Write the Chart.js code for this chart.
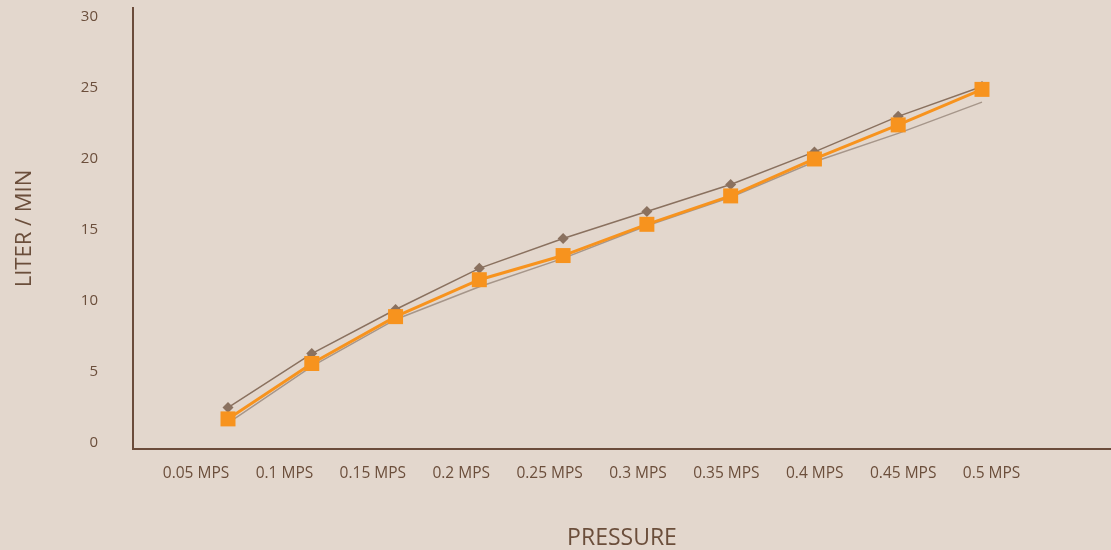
<!DOCTYPE html>
<html>
<head>
<meta charset="utf-8">
<script src="https://cdn.jsdelivr.net/npm/chart.js@4"></script>
<style>
  html, body { margin: 0; padding: 0; background: #e3d7cd; overflow: hidden; }
  #wrap { width: 1111px; height: 550px; position: relative; }
  canvas { display: block; }
</style>
</head>
<body>
<div id="wrap"><canvas id="c"></canvas></div>
<script>
const categories = ['0.05 MPS', '0.1 MPS', '0.15 MPS', '0.2 MPS', '0.25 MPS', '0.3 MPS', '0.35 MPS', '0.4 MPS', '0.45 MPS', '0.5 MPS'];
const brownSeries = [2.5, 6.3, 9.4, 12.3, 14.4, 16.3, 18.2, 20.5, 23.0, 25.1];
const greySeries = [1.4, 5.4, 8.7, 11.0, 13.0, 15.3, 17.3, 19.8, 21.8, 24.0];
const orangeSeries = [1.7, 5.6, 8.9, 11.5, 13.2, 15.4, 17.4, 20.0, 22.4, 24.9];
const yTicks = [0, 5, 10, 15, 20, 25, 30];

const textColor = '#6b4e3b';
const axisColor = '#6b4c3b';
const fontFamily = "'Open Sans', 'Noto Sans', sans-serif";

const toPoints = arr => arr.map((v, i) => ({ x: i + 1, y: v }));

new Chart(document.getElementById('c'), {
  type: 'line',
  data: {
    datasets: [
      {
        label: 'Orange',
        data: toPoints(orangeSeries),
        xAxisID: 'x2',
        borderColor: '#f7931e',
        backgroundColor: '#f7931e',
        borderWidth: 3,
        pointStyle: 'rect',
        pointRadius: 10.6,
        pointBorderWidth: 0,
        tension: 0
      },
      {
        label: 'Grey',
        data: toPoints(greySeries),
        xAxisID: 'x2',
        borderColor: '#a6968a',
        borderWidth: 1.5,
        pointRadius: 0,
        tension: 0
      },
      {
        label: 'Brown',
        data: toPoints(brownSeries),
        xAxisID: 'x2',
        borderColor: '#8a715f',
        backgroundColor: '#8a715f',
        borderWidth: 1.5,
        pointStyle: 'rectRot',
        pointRadius: 5.5,
        pointBorderWidth: 0,
        tension: 0
      }
    ]
  },
  options: {
    responsive: true,
    maintainAspectRatio: false,
    animation: false,
    layout: { autoPadding: false, padding: { top: 8, right: 0, left: 0, bottom: 0 } },
    plugins: { legend: { display: false }, tooltip: { enabled: false } },
    scales: {
      x: {
        type: 'linear',
        position: 'bottom',
        min: 0.287,
        max: 11.351,
        grid: { display: false, drawTicks: false },
        border: { display: true, color: axisColor, width: 2 },
        afterBuildTicks: s => { s.ticks = categories.map((c, i) => ({ value: i + 1 })); },
        afterFit: s => { s.height = 101; s.paddingLeft = 0; s.paddingRight = 0; },
        ticks: {
          autoSkip: false,
          maxRotation: 0,
          padding: 15,
          color: textColor,
          font: { family: fontFamily, size: 15.5 },
          callback: v => categories[Math.round(v) - 1]
        },
        title: {
          display: true,
          text: 'PRESSURE',
          color: textColor,
          font: { family: fontFamily, size: 23 },
          padding: { top: 0, bottom: -2 }
        }
      },
      x2: {
        type: 'linear',
        display: false,
        min: -0.134,
        max: 11.54
      },
      y: {
        type: 'linear',
        min: -0.42,
        max: 30.63,
        grid: { display: false, drawTicks: false },
        border: { display: true, color: axisColor, width: 2 },
        afterBuildTicks: s => { s.ticks = yTicks.map(v => ({ value: v })); },
        afterFit: s => { s.width = 133; s.paddingTop = 0; s.paddingBottom = 0; },
        ticks: {
          padding: 35,
          color: textColor,
          font: { family: fontFamily, size: 15 }
        },
        title: {
          display: true,
          text: 'LITER / MIN',
          color: textColor,
          font: { family: fontFamily, size: 22 },
          padding: { top: 12, bottom: 0 }
        }
      }
    }
  }
});
</script>
</body>
</html>
